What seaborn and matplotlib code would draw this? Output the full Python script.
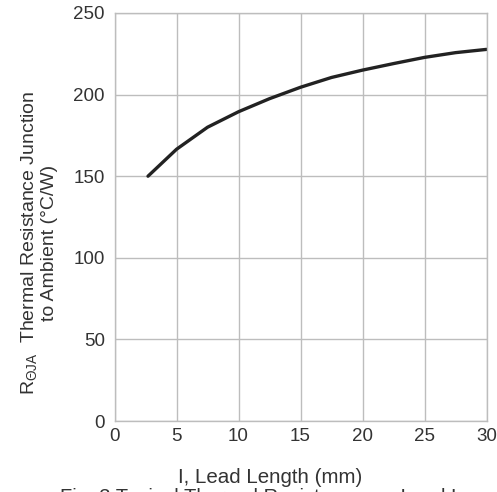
import matplotlib
matplotlib.use("Agg")
import matplotlib.pyplot as plt
import seaborn as sns
import pandas as pd

lead_length_mm = [2.7, 5, 7.5, 10, 12.5, 15, 17.5, 20, 22.5, 25, 27.5, 30]
thermal_resistance = [150, 166.5, 180, 189.5, 197.5, 204.5, 210.5, 215, 219, 222.8, 225.7, 227.7]
x_ticks = [0, 5, 10, 15, 20, 25, 30]
y_ticks = [0, 50, 100, 150, 200, 250]

sns.set_theme(style="white")
plt.rcParams['font.family'] = ['Liberation Sans', 'DejaVu Sans']
plt.rcParams['mathtext.fontset'] = 'custom'
plt.rcParams['mathtext.rm'] = 'Liberation Sans'
plt.rcParams['mathtext.it'] = 'Liberation Sans'

df = pd.DataFrame({"x": lead_length_mm, "y": thermal_resistance})

fig = plt.figure(figsize=(4.97, 4.92), dpi=100)
ax = fig.add_axes([0.2304, 0.1443, 0.979 - 0.2304, 0.9736 - 0.1443])
sns.lineplot(data=df, x="x", y="y", ax=ax, color="#222222", linewidth=2.4)

ax.set_xlim(0, 30)
ax.set_ylim(0, 250)
ax.set_xticks(x_ticks)
ax.set_yticks(y_ticks)
ax.grid(True, color="#bdbdbd", linewidth=1)
for s in ax.spines.values():
    s.set_color("#bdbdbd")
    s.set_linewidth(1)
ax.tick_params(axis="both", length=0, labelsize=13.5, colors="#333333")
ax.tick_params(axis="x", pad=5)
ax.tick_params(axis="y", pad=7)
ax.set_xlabel("I, Lead Length (mm)", fontsize=14.8, color="#333333", va="center")
ax.xaxis.set_label_coords(0.418, -0.139)
ax.set_ylabel("R$_{\\Theta JA}$  Thermal Resistance Junction\nto Ambient (°C/W)",
              fontsize=14, color="#333333", linespacing=1.15)
ax.yaxis.set_label_coords(-0.152, 0.4375)

fig.text(60 / 497, 1 - 503 / 492, "Fig. 3 Typical Thermal Resistance vs. Lead Length",
         fontsize=14.5, color="#333333", ha="left", va="baseline")

fig.savefig("out.png", dpi=100)
